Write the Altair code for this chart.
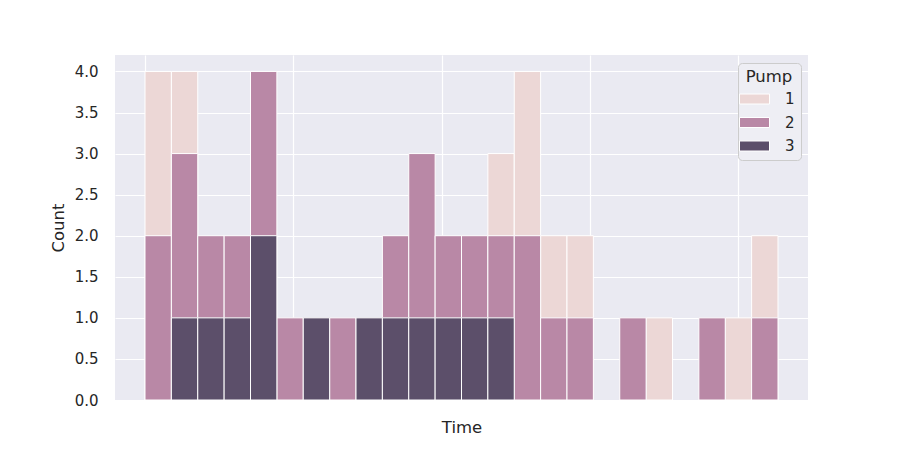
import altair as alt
import pandas as pd

# histogram bins (index of 24 equal-width time bins) and per-pump counts
bins = list(range(24))
pump1 = [4, 4, 0, 0, 0, 0, 0, 0, 0, 0, 0, 0, 0, 3, 4, 2, 2, 0, 0, 1, 0, 0, 1, 2]
pump2 = [2, 3, 2, 2, 4, 1, 0, 1, 0, 2, 3, 2, 2, 2, 2, 1, 1, 0, 1, 0, 0, 1, 0, 1]
pump3 = [0, 1, 1, 1, 2, 0, 1, 0, 1, 1, 1, 1, 1, 1, 0, 0, 0, 0, 0, 0, 0, 0, 0, 0]
pumps = ["1", "2", "3"]
colors = ["#ecd7d6", "#b988a6", "#5c4f6a"]
y_ticks = [0, 0.5, 1, 1.5, 2, 2.5, 3, 3.5, 4]
x_ticks = [0, 5.625, 11.25, 16.875, 22.5]

rows = []
for p, series in zip(pumps, [pump1, pump2, pump3]):
    for b, c in zip(bins, series):
        if c > 0:
            rows.append({"start": b, "end": b + 1, "count": c, "base": 0,
                         "Pump": p, "order": int(p)})
df = pd.DataFrame(rows)

x_scale = alt.Scale(domain=[-1.1375, 25.1375], nice=False, zero=False)
y_scale = alt.Scale(domain=[0, 4.2], nice=False)

bars = alt.Chart(df).mark_bar(stroke="white", strokeWidth=1, opacity=1).encode(
    x=alt.X("start:Q", scale=x_scale,
            axis=alt.Axis(title="Time", values=x_ticks, labels=False, ticks=False,
                          domain=False, grid=True, titlePadding=19)),
    x2="end:Q",
    y=alt.Y("count:Q", scale=y_scale, stack=None,
            axis=alt.Axis(title="Count", values=y_ticks, format=".1f", ticks=False,
                          domain=False, grid=True, labelPadding=17, titlePadding=8)),
    y2="base:Q",
    color=alt.Color("Pump:N", scale=alt.Scale(domain=pumps, range=colors),
                    legend=alt.Legend(
                        title="Pump", orient="none", legendX=623, legendY=8,
                        symbolType="M-1.5,-0.5H1.5V0.5H-1.5Z", symbolSize=400,
                        symbolStrokeColor="white", symbolStrokeWidth=1,
                        symbolOpacity=1, symbolOffset=0,
                        fillColor="#eeeef4", strokeColor="#cccccc", cornerRadius=4,
                        padding=6, titleFontSize=16.5, labelFontSize=15,
                        titleFontWeight="normal", titleColor="#262626",
                        labelColor="#262626", rowPadding=4.5, labelOffset=20,
                        titlePadding=3,
                        titleAlign="center", titleAnchor="middle")),
    order=alt.Order("order:Q"),
)

chart = bars.properties(
    width=693, height=345,
    autosize=alt.AutoSizeParams(type="none"),
    padding={"left": 107, "top": 47, "right": 84, "bottom": 42},
    background="white",
).configure_view(fill="#eaeaf2", stroke=None).configure_axis(
    gridColor="white", gridWidth=1.2, labelFont="DejaVu Sans", titleFont="DejaVu Sans",
    labelFontSize=15, titleFontSize=16.5, labelColor="#262626", titleColor="#262626",
    titleFontWeight="normal",
).configure_legend(labelFont="DejaVu Sans", titleFont="DejaVu Sans")

chart.save("out.html", embed_options={"renderer": "svg", "actions": False})
